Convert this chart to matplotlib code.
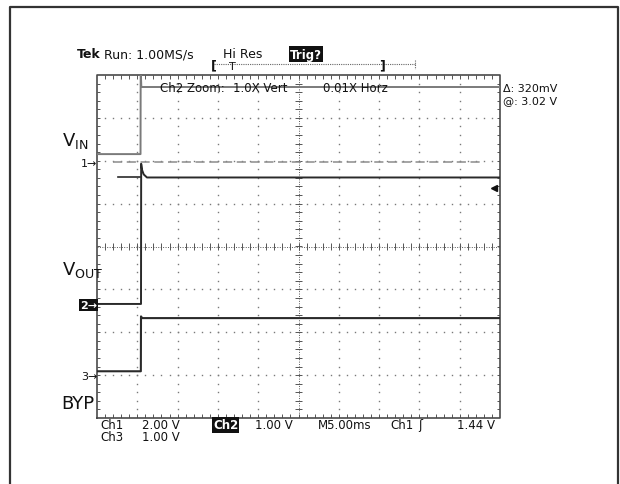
import numpy as np
import matplotlib
matplotlib.use('Agg')
import matplotlib.pyplot as plt

# Scope settings
MS_PER_DIV = 5.0
CH1_V_PER_DIV = 2.0
CH2_V_PER_DIV = 1.0
CH3_V_PER_DIV = 1.0
CH1_GROUND = 1.95   # divisions from centre
CH2_GROUND = -1.34
CH3_GROUND = -3.00

# Traces, time in ms from left edge, level in volts
VIN_T = [0.0, 5.40, 5.42, 5.50, 50.0]
VIN_V = [0.41, 0.41, 4.40, 3.54, 3.54]

VOUT_T = [0.0, 5.46, 5.48, 5.60, 5.80, 6.20, 50.0]
VOUT_V = [0.0, 0.0, 3.27, 3.12, 3.02, 2.95, 2.95]

VOUT_REF_T = [2.6, 5.46]
VOUT_REF_V = [2.97, 2.97]

BYP_T = [0.0, 5.44, 5.46, 5.60, 50.0]
BYP_V = [0.09, 0.09, 1.37, 1.33, 1.33]

CURSOR_T = [2.0, 47.5]
CURSOR_V = [3.30, 3.30]

# Screen geometry in pixels
W, H = 620, 485
G_LEFT, G_RIGHT, G_TOP, G_BOT = 97, 500, 76, 419


def to_div(t, v, ground, v_per_div):
    x = np.asarray(t) / MS_PER_DIV
    y = ground + np.asarray(v) / v_per_div
    return x, y


fig = plt.figure(figsize=(W / 100, H / 100), dpi=100)
fig.patch.set_facecolor('white')

ax = fig.add_axes([G_LEFT / W, (H - G_BOT) / H,
                   (G_RIGHT - G_LEFT) / W, (G_BOT - G_TOP) / H])
ax.set_xlim(0, 10)
ax.set_ylim(-4, 4)
ax.axis('off')

grid_c = '#7a7a7a'
# division dots
sub_y = np.arange(-4, 4.001, 0.2)[1:-1]
sub_x = np.arange(0, 10.001, 0.2)[1:-1]
for xi in range(1, 10):
    if xi == 5:
        continue
    ax.plot([xi] * len(sub_y), sub_y, ls='none', marker='s', ms=1.0,
            mew=0, color=grid_c)
for yi in range(-3, 4):
    if yi == 0:
        continue
    ax.plot(sub_x, [yi] * len(sub_x), ls='none', marker='s', ms=1.0,
            mew=0, color=grid_c)

# centre cross
ax.axhline(0, ls=(0, (1, 1.5)), lw=0.7, color='#555')
ax.axvline(5, ls=(0, (1, 1.5)), lw=0.7, color='#555')
ax.vlines(sub_x, -0.07, 0.07, lw=0.7, color='#555')
ax.hlines(sub_y, 5 - 0.08, 5 + 0.08, lw=0.7, color='#555')

# frame ticks
ax.vlines(sub_x, 3.91, 4.0, lw=0.7, color='#555')
ax.vlines(sub_x, -4.0, -3.91, lw=0.7, color='#555')
ax.hlines(sub_y, 0, 0.08, lw=0.7, color='#555')
ax.hlines(sub_y, 9.92, 10, lw=0.7, color='#555')
ax.plot([0, 10, 10, 0, 0], [-4, -4, 4, 4, -4], color='#4a4a4a', lw=1.2,
        clip_on=False)

# traces
x, y = to_div(CURSOR_T, CURSOR_V, CH2_GROUND, CH2_V_PER_DIV)
ax.plot(x, y, color='#8c8c8c', lw=1.1, dashes=(6, 3))
x, y = to_div(VIN_T, VIN_V, CH1_GROUND, CH1_V_PER_DIV)
ax.plot(x, y, color='#7a7a7a', lw=1.4)
x, y = to_div(VOUT_REF_T, VOUT_REF_V, CH2_GROUND, CH2_V_PER_DIV)
ax.plot(x, y, color='#2a2a2a', lw=1.2)
x, y = to_div(VOUT_T, VOUT_V, CH2_GROUND, CH2_V_PER_DIV)
ax.plot(x, y, color='#2a2a2a', lw=1.4)
x, y = to_div(BYP_T, BYP_V, CH3_GROUND, CH3_V_PER_DIV)
ax.plot(x, y, color='#2a2a2a', lw=1.5)

# overlay in pixel coordinates for the screen annotations
ov = fig.add_axes([0, 0, 1, 1], zorder=5)
ov.set_xlim(0, W)
ov.set_ylim(H, 0)
ov.axis('off')
ov.patch.set_alpha(0)

# outer frame
ov.plot([10, 10, 618, 618], [490, 8, 8, 490], color='#333', lw=1.6)

font = 'DejaVu Sans'
small = 8.5


def txt(x, y, s, size=small, color='#111', **kw):
    ov.text(x, y, s, fontsize=size, family=font, va='center', ha='left',
            color=color, **kw)


txt(77, 55, 'Tek', size=9, fontweight='bold')
txt(104, 55, 'Run: 1.00MS/s', size=9)
txt(223, 54, 'Hi Res', size=9)
txt(290, 55, 'Trig?', size=8.5, fontweight='bold', color='white',
    bbox=dict(boxstyle='square,pad=0.1', fc='#111', ec='none'))

# trigger position bar
ov.plot([214, 415], [65, 65], color='#666', lw=0.8, ls=(0, (1, 1)))
txt(211, 66, '[', size=9, fontweight='bold')
txt(379, 66, ']', size=9, fontweight='bold')
txt(229, 67, 'T', size=8)
ov.plot([415, 415], [61, 70], color='#666', lw=0.8, ls=(0, (1, 1)))

txt(160, 88, 'Ch2 Zoom:')
txt(233, 88, '1.0X Vert')
txt(323, 88, '0.01X Horz')
txt(503, 89, '\u0394: 320mV', size=8)
txt(503, 101, '@: 3.02 V', size=8)
ov.plot([494], [189], marker='<', ms=4, color='#111', ls='none')

# channel labels
txt(62, 141, r'V$_{\mathregular{IN}}$', size=13)
txt(62, 270, r'V$_{\mathregular{OUT}}$', size=13)
txt(61, 404, 'BYP', size=13)
txt(81, 164, '1\u2192', size=8)
txt(80, 306, '2\u2192', size=8, fontweight='bold', color='white',
    bbox=dict(boxstyle='square,pad=0.12', fc='#111', ec='none'))
txt(81, 377, '3\u2192', size=8)

# bottom readout
txt(100, 426, 'Ch1')
txt(142, 426, '2.00 V')
txt(213, 426, 'Ch2', fontweight='bold', color='white',
    bbox=dict(boxstyle='square,pad=0.1', fc='#111', ec='none'))
txt(255, 426, '1.00 V')
txt(318, 426, 'M5.00ms')
txt(390, 426, 'Ch1')
txt(418, 426, '\u0283')
txt(457, 426, '1.44 V')
txt(100, 438, 'Ch3')
txt(142, 438, '1.00 V')

fig.savefig('out.png', dpi=100, facecolor='white')
